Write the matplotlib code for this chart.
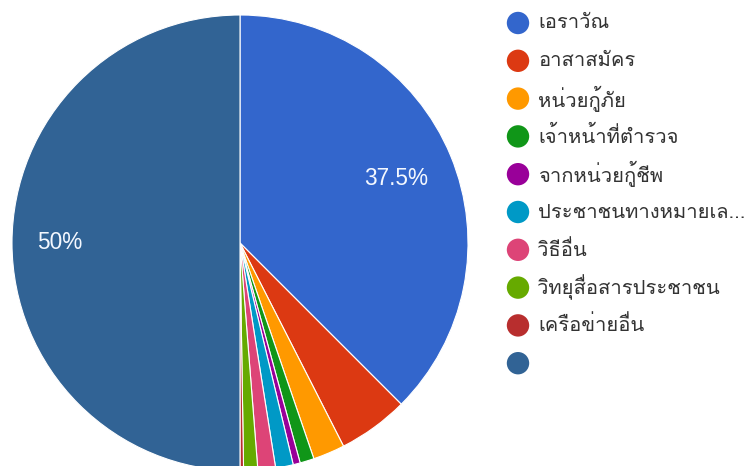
import numpy as np
import matplotlib
matplotlib.use("Agg")
import matplotlib.pyplot as plt
from matplotlib import font_manager
from fontTools.ttLib import TTFont

# Data
categories = ["เอราวัณ", "อาสาสมัคร", "หน่วยกู้ภัย", "เจ้าหน้าที่ตำรวจ", "จากหน่วยกู้ชีพ",
              "ประชาชนทางหมายเล...", "วิธีอื่น", "วิทยุสื่อสารประชาชน", "เครือข่ายอื่น", ""]
shares = [37.5, 5.0, 2.25, 1.0, 0.5, 1.25, 1.25, 1.0, 0.25, 50.0]
colors = ["#3366cc", "#dc3912", "#ff9900", "#109618", "#990099",
          "#0099c6", "#dd4477", "#66aa00", "#b82e2e", "#316395"]


def find_thai_family():
    for fe in font_manager.fontManager.ttflist:
        try:
            f = TTFont(fe.fname, fontNumber=0, lazy=True)
            cmap = f.getBestCmap() or {}
            if 0x0E2D in cmap and 0x0E40 in cmap:
                return fe.name
        except Exception:
            continue
    return None


thai = find_thai_family()
legend_family = [thai, "DejaVu Sans"] if thai else ["DejaVu Sans"]

W, H = 749, 466
fig = plt.figure(figsize=(W / 100, H / 100), dpi=100)
fig.patch.set_facecolor("white")

# Pie axes: centre (240, 243) px, radius 228 px
cx, cy, r = 240, 243, 228
ax = fig.add_axes([(cx - r) / W, (H - cy - r) / H, 2 * r / W, 2 * r / H])
wedges, _ = ax.pie(shares, colors=colors, startangle=90, counterclock=False,
                   radius=1.0, wedgeprops=dict(edgecolor="white", linewidth=0.8))
ax.set_xlim(-1, 1)
ax.set_ylim(-1, 1)
ax.set_aspect("equal")
ax.axis("off")

# Percentage labels on the large slices
label_radius = {0: 0.74, 9: 0.79}
for i, w in enumerate(wedges):
    if shares[i] < 10:
        continue
    mid = np.deg2rad((w.theta1 + w.theta2) / 2)
    rr = label_radius.get(i, 0.75)
    txt = f"{shares[i]:g}%"
    ax.text(rr * np.cos(mid), rr * np.sin(mid), txt, color="#f4f8ff",
            fontsize=16.3, family="Liberation Sans", ha="center", va="center")

# Legend column
lax = fig.add_axes([0, 0, 1, 1])
lax.set_xlim(0, W)
lax.set_ylim(H, 0)
lax.axis("off")
y0, pitch = 23, 37.8
for i, (lab, col) in enumerate(zip(categories, colors)):
    y = y0 + i * pitch
    lax.scatter([518], [y], s=260, color=col, edgecolors="none")
    lax.text(538, y, lab, fontsize=14.5, family=legend_family,
             color="#333333", ha="left", va="center")

fig.savefig("out.png", dpi=100)
